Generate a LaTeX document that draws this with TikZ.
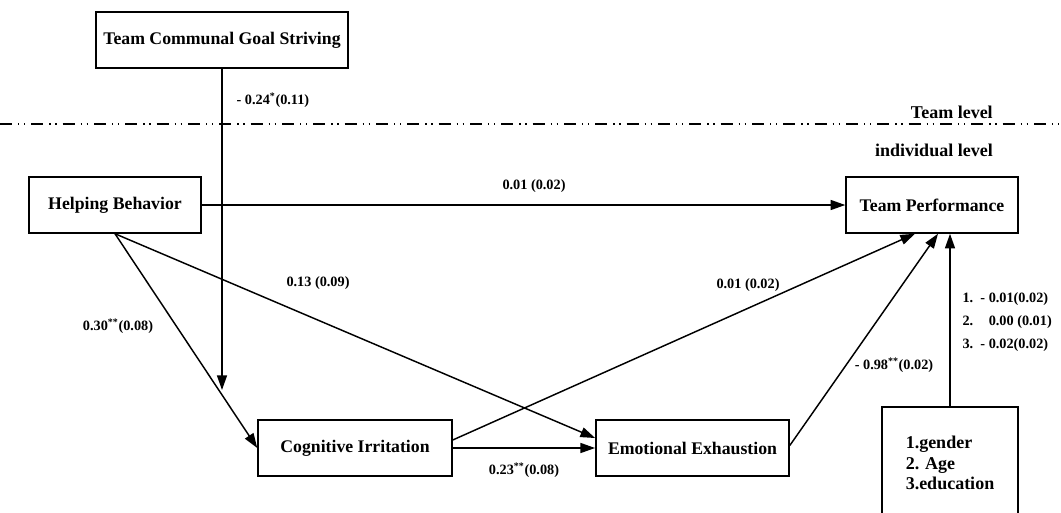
\documentclass[tikz,border=0pt]{standalone}
\usepackage{fontspec}
\setmainfont{Liberation Serif}
\usetikzlibrary{arrows.meta, positioning, calc}

\begin{document}
\begin{tikzpicture}[
    x=0.75pt, y=-0.75pt,
    >={Triangle[length=11pt, width=7.5pt]},
    font=\bfseries,
    var/.style  = {draw=black, line width=1.1pt, minimum height=42pt, inner sep=0pt,
                   font=\fontsize{13.3}{16}\selectfont\bfseries},
    lnk/.style  = {->, draw=black, line width=1.1pt},
    coef/.style = {font=\fontsize{10.7}{13}\selectfont\bfseries, inner sep=1pt},
    lvl/.style  = {font=\fontsize{13.5}{16}\selectfont\bfseries, anchor=east, inner sep=0pt}
  ]
  \useasboundingbox (0,0) rectangle (1061,512);

  % --- team level ---
  \node[var, minimum width=189pt] (tcgs) at (222,40) {Team Communal Goal Striving};
  \coordinate (mod) at (222,390);

  % --- level divider ---
  \draw[line width=1.1pt, dash pattern=on 9pt off 4.5pt on 1pt off 3.5pt on 1pt off 4.5pt]
       (0,124) -- (1061,124);
  \node[lvl] (teamlvl) at (993,112) {Team level};
  \node[lvl] (indlvl)  at (993,150) {individual level};

  % --- individual level ---
  \node[var, minimum width=129pt]   (hb)   at (115,205)   {Helping Behavior};
  \node[var, minimum width=129pt]   (tp)   at (932,205)   {Team Performance};
  \node[var, minimum width=145.5pt] (ci)   at (355,448)   {Cognitive Irritation};
  \node[var, minimum width=145pt]   (ee)   at (692.5,448) {Emotional Exhaustion};
  \node[var, minimum width=102pt, minimum height=84pt, align=left,
        font=\fontsize{13.5}{15.5}\selectfont\bfseries] (ctrl) at (950,463)
       {1.gender\\2. Age\\3.education};

  % --- paths ---
  \draw[lnk] (tcgs) -- (mod);
  \draw[lnk] (hb) -- (tp);
  \draw[lnk] (hb.south) -- (ci.west);
  \draw[lnk] (hb.south) -- ([yshift=7.5pt]ee.west);
  \draw[lnk] ([yshift=6pt]ci.east) -- ([xshift=-12.75pt]tp.south);
  \draw[lnk] (ci) -- (ee);
  \draw[lnk] ([yshift=2pt]ee.east) -- ([xshift=4.5pt]tp.south);
  \draw[lnk] (ctrl.north) -- (ctrl.north |- tp.south);

  % --- coefficients ---
  \node[coef, anchor=west] (c1) at (235,100) {- 0.24\textsuperscript{*}(0.11)};
  \node[coef] (c2) at (534,186) {0.01 (0.02)};
  \node[coef] (c3) at (318,283) {0.13 (0.09)};
  \node[coef] (c4) at (118,326) {0.30\textsuperscript{**}(0.08)};
  \node[coef] (c5) at (748,285) {0.01 (0.02)};
  \node[coef] (c6) at (524,470) {0.23\textsuperscript{**}(0.08)};
  \node[coef] (c7) at (894,365) {- 0.98\textsuperscript{**}(0.02)};
  \node[coef, anchor=west, align=left, font=\fontsize{10.7}{17.5}\selectfont\bfseries]
       (c8) at (961,322)
       {1.\ \ - 0.01(0.02)\\2.\ \ \phantom{-}\ 0.00 (0.01)\\3.\ \ - 0.02(0.02)};

\end{tikzpicture}
\end{document}
